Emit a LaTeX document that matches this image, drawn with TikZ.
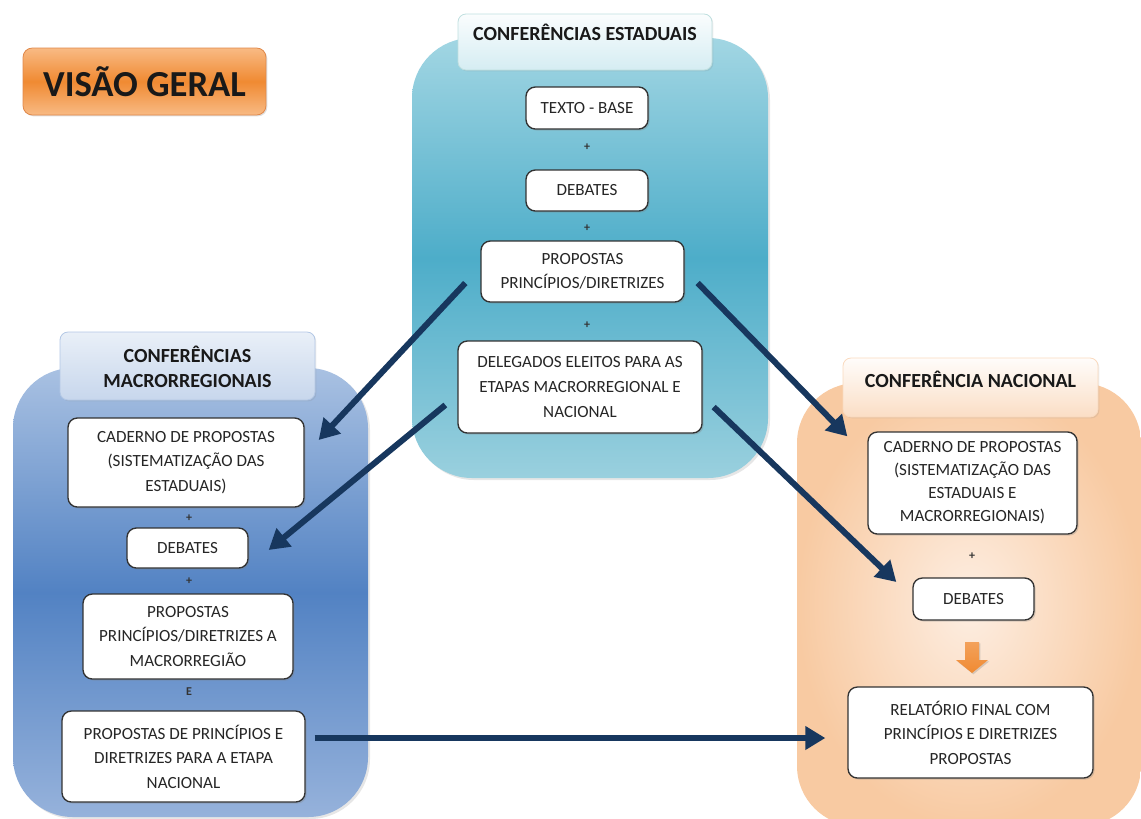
\documentclass[tikz,border=0pt]{standalone}
\usepackage{fontspec}
\setmainfont{Carlito}
\usetikzlibrary{arrows.meta,calc,shadows}

\definecolor{navy}{HTML}{17375E}
\definecolor{tealtop}{HTML}{A2D6E3}
\definecolor{tealmid}{HTML}{4DADC9}
\definecolor{tealbot}{HTML}{9AD0DE}
\definecolor{bluetop}{HTML}{A9C1E2}
\definecolor{bluemid}{HTML}{5282C3}
\definecolor{bluebot}{HTML}{96B2DB}
\definecolor{peachin}{HTML}{FDEEE2}
\definecolor{peachout}{HTML}{F8CAA2}
\definecolor{orangetop}{HTML}{F8BA84}
\definecolor{orangemid}{HTML}{F08A32}
\definecolor{orangeline}{HTML}{E0884A}

\newcommand{\stepfont}{\fontsize{12.8}{18.4}\selectfont}
\newcommand{\tabfont}{\fontsize{15}{19}\selectfont\bfseries}
\newcommand{\plusfont}{\fontsize{9}{9}\selectfont\bfseries}
\newcommand{\bannerfont}{\fontsize{27.5}{30}\selectfont\bfseries}

\begin{document}
\begin{tikzpicture}[x=0.75pt,y=-0.75pt,
    stepbox/.style={draw=black!80, line width=1pt, fill=white, rounded corners=7pt,
        align=center, inner sep=0pt, font=\stepfont, text=black!85,
        drop shadow={shadow xshift=1.2pt, shadow yshift=-1.2pt, opacity=0.3}},
    boxsize/.style 2 args={minimum width=#1*0.75pt, minimum height=#2*0.75pt},
    tab/.style={rounded corners=6pt, line width=0.6pt,
        drop shadow={shadow xshift=1pt, shadow yshift=-1pt, opacity=0.15}},
    tabtext/.style={font=\tabfont, text=black!90, align=center},
    plus/.style={font=\plusfont, text=black!80},
    link/.style={-{Triangle[length=15pt,width=17pt]}, line width=4.5pt, draw=navy},
]
    \useasboundingbox (0,0) rectangle (1141,818);

    % Panels
    \shade[top color=tealtop, bottom color=tealbot, middle color=tealmid, rounded corners=45pt,
        drop shadow={shadow xshift=1.5pt, shadow yshift=-1.5pt, opacity=0.2}] (412,38) rectangle (768,478);
    \shade[top color=bluetop, bottom color=bluebot, middle color=bluemid, rounded corners=45pt,
        drop shadow={shadow xshift=1.5pt, shadow yshift=-1.5pt, opacity=0.2}] (13,368) rectangle (368,817);
    \begin{scope}
        \clip (0,0) rectangle (1141,818);
        \shade[inner color=peachin, outer color=peachout, rounded corners=45pt] (797,383) rectangle (1141,826);
    \end{scope}

    % Banner
    \node[draw=orangeline, line width=0.6pt, rounded corners=7pt, top color=orangetop, bottom color=orangetop,
        middle color=orangemid, boxsize={243}{67}, font=\bannerfont, text=black!90,
        drop shadow={shadow xshift=1pt, shadow yshift=-1pt, opacity=0.25}] (visao) at (144.5,81.5) {VISÃO GERAL};

    % Tabs
    \node[tab, draw=teal!25, top color=white!95!tealtop, bottom color=white!55!tealtop, boxsize={254}{56}] (tabE) at (585,42) {};
    \node[tabtext, anchor=base] (titleE) at (585,40) {CONFERÊNCIAS ESTADUAIS};
    \node[tab, draw=bluetop!90, top color=white!75!bluetop, bottom color=white!35!bluetop, boxsize={255}{68}] (tabM) at (187.5,366) {};
    \node[tabtext] (titleM) at (187.5,367) {CONFERÊNCIAS\\MACRORREGIONAIS};
    \node[tab, draw=peachout!70, top color=white!85!peachin, bottom color=peachout!45!peachin, boxsize={255}{59}] (tabN) at (970.5,387.5) {};
    \node[tabtext, anchor=base] (titleN) at (970.5,387) {CONFERÊNCIA NACIONAL};

    % Nodes estaduais
    \node[stepbox, boxsize={122}{42}] (tbase) at (587,108) {TEXTO - BASE};
    \node[stepbox, boxsize={122}{41}] (debE) at (587,190.5) {DEBATES};
    \node[stepbox, boxsize={203}{61}] (propE) at (582.5,271.5) {PROPOSTAS\\PRINCÍPIOS/DIRETRIZES};
    \node[stepbox, boxsize={244}{92}] (delE) at (580,387) {DELEGADOS ELEITOS PARA AS\\ETAPAS MACRORREGIONAL E\\NACIONAL};
    \node[plus] (plusE1) at (587,147) {+};
    \node[plus] (plusE2) at (587,228) {+};
    \node[plus] (plusE3) at (587,325) {+};

    % Nodes macrorregionais
    \node[stepbox, boxsize={236}{89}] (cadM) at (186,462.5) {CADERNO DE PROPOSTAS\\(SISTEMATIZAÇÃO DAS\\ESTADUAIS)};
    \node[stepbox, boxsize={121}{40}] (debM) at (187.5,548) {DEBATES};
    \node[stepbox, boxsize={210}{85}] (propM) at (188,636.5) {PROPOSTAS\\PRINCÍPIOS/DIRETRIZES A\\MACRORREGIÃO};
    \node[stepbox, boxsize={243}{91}] (ppM) at (183.5,756.5) {PROPOSTAS DE PRINCÍPIOS E\\DIRETRIZES PARA A ETAPA\\NACIONAL};
    \node[plus] (plusM1) at (189,518) {+};
    \node[plus] (plusM2) at (189,581) {+};
    \node[plus] (plusM3) at (189,692) {E};

    % Nodes nacional
    \node[stepbox, boxsize={209}{102}, font=\fontsize{12.8}{17.2}\selectfont] (cadN) at (972.5,483) {CADERNO DE PROPOSTAS\\(SISTEMATIZAÇÃO DAS\\ESTADUAIS E\\MACRORREGIONAIS)};
    \node[stepbox, boxsize={121}{42}] (debN) at (973.5,599) {DEBATES};
    \node[stepbox, boxsize={245}{91}] (relN) at (970.5,732.5) {RELATÓRIO FINAL COM\\PRINCÍPIOS E DIRETRIZES\\PROPOSTAS};
    \node[plus] (plusN1) at (972,556) {+};
    \shade[top color=orangemid!80, bottom color=orangemid, drop shadow={shadow xshift=1pt, shadow yshift=-1pt, opacity=0.3}]
        (965,642) -- (979,642) -- (979,660) -- (988,660) -- (972,673) -- (956,660) -- (965,660) -- cycle;

    % Edges
    \draw[link] ($(propE.west)+(-15,11.5)$) -- ($(cadM.east)+(14,-22.5)$);
    \draw[link] ($(delE.west)+(-12,18)$) -- ($(debM.east)+(20,2)$);
    \draw[link] ($(propE.east)+(13,11.5)$) -- ($(cadN.north west)+(-20,5)$);
    \draw[link] ($(delE.east)+(11,20)$) -- ($(debN.west)+(-16,-17)$);
    \draw[link] ($(ppM.east)+(9,-18.5)$) -- ($(relN.west)+(-22,5.5)$);

\end{tikzpicture}
\end{document}
